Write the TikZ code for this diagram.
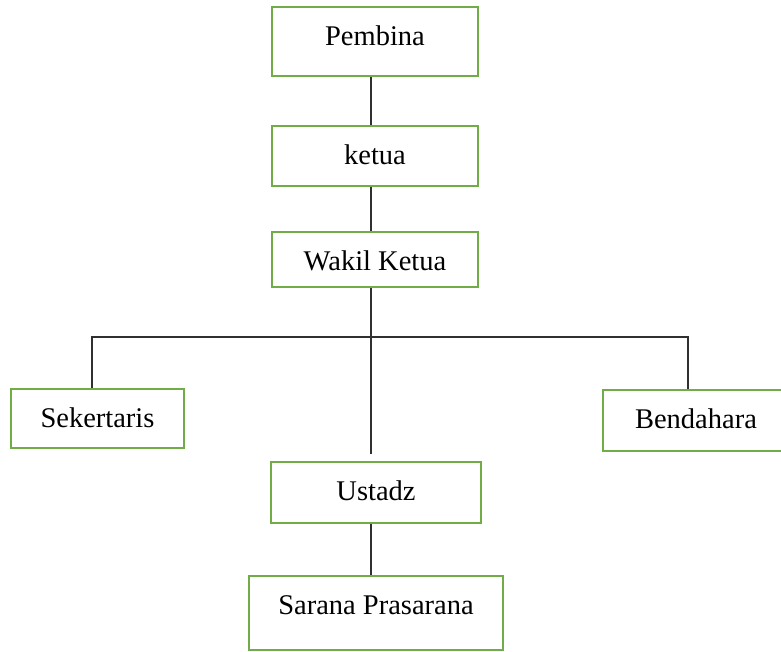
\documentclass[tikz,border=0pt]{standalone}
\usepackage{fontspec}
\setmainfont{Liberation Serif}
\definecolor{boxgreen}{HTML}{70AD47}
\definecolor{linegray}{HTML}{303030}
\tikzset{
  orgbox/.style={draw=boxgreen, line width=2.6pt, fill=white, inner sep=0pt,
    text height=38pt, font=\fontsize{28.5}{34}\selectfont, align=center},
  conn/.style={draw=linegray, line width=1.1pt}
}
\begin{document}
\begin{tikzpicture}[x=1pt,y=-1pt]
\clip (0,0) rectangle (781,651);
\fill[white] (0,0) rectangle (781,651);
\node[orgbox, minimum width=206pt, minimum height=69pt, text depth=31pt] (pembina) at (375,41.5) {Pembina};
\node[orgbox, minimum width=206pt, minimum height=60pt, text depth=22pt] (ketua) at (375,156) {ketua};
\node[orgbox, minimum width=206pt, minimum height=55pt, text depth=17pt] (wakil) at (375,259.5) {Wakil Ketua};
\node[orgbox, minimum width=173pt, minimum height=59pt, text depth=21pt] (sek) at (97.5,418.5) {Sekertaris};
\node[orgbox, minimum width=186pt, minimum height=61pt, text depth=23pt] (bend) at (696,420.5) {Bendahara};
\node[orgbox, minimum width=210pt, minimum height=61pt, text depth=23pt] (ustadz) at (376,492.5) {Ustadz};
\node[orgbox, minimum width=254pt, minimum height=74pt, text depth=36pt] (sarana) at (376,613) {Sarana Prasarana};
\coordinate (trunk) at (371,337);
\coordinate (trunkend) at (371,454);
\coordinate (lb) at (92,337);
\coordinate (rb) at (688,337);
\draw[conn] (pembina.south -| trunk) -- (ketua.north -| trunk);
\draw[conn] (ketua.south -| trunk) -- (wakil.north -| trunk);
\draw[conn] (wakil.south -| trunk) -- (trunkend);
\draw[conn] (sek.north -| lb) -- (lb) -- (rb) -- (bend.north -| rb);
\draw[conn] (ustadz.south -| trunk) -- (sarana.north -| trunk);
\end{tikzpicture}
\end{document}
